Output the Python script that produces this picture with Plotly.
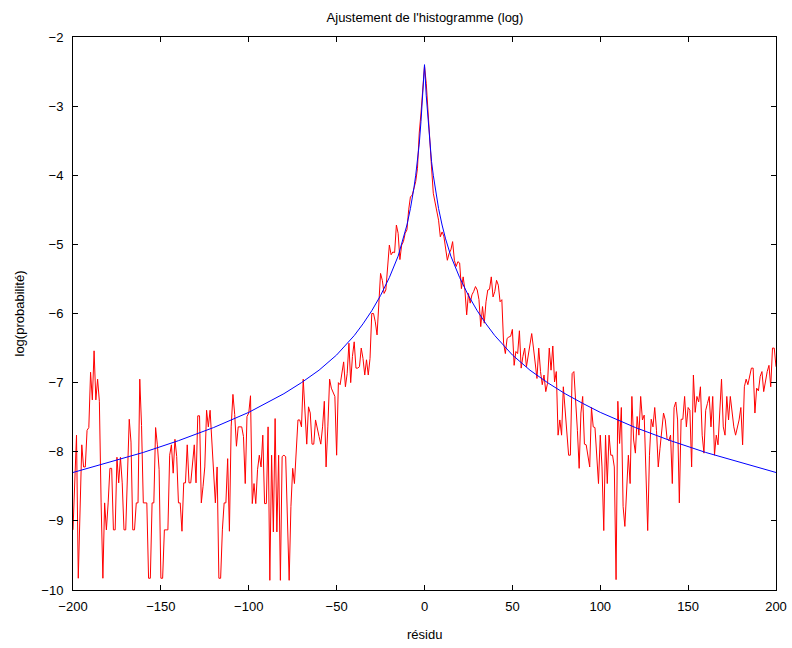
import plotly.graph_objects as go

# Red: empirical log-probability per residual value, x = -200..200 step 1
red_left = [  # x = -200 .. -101
    -9.13, -8.45, -7.76, -9.83, -8.74, -7.90, -8.22, -8.22, -7.69, -7.65,
    -6.85, -7.25, -6.54, -7.25, -6.95, -7.27, -8.74, -9.83, -8.74, -9.13,
    -8.74, -8.24, -8.24, -9.13, -9.13, -8.08, -8.45, -8.08, -8.45, -9.13,
    -9.13, -8.45, -7.53, -7.86, -9.13, -9.13, -8.74, -8.74, -6.95, -7.62,
    -8.74, -8.74, -8.74, -9.83, -9.83, -8.74, -8.74, -7.65, -7.90, -8.26,
    -9.83, -9.83, -9.13, -9.13, -9.13, -8.05, -7.90, -8.31, -7.82, -8.07,
    -8.74, -8.74, -9.15, -8.45, -8.45, -7.90, -8.45, -8.45, -8.22, -7.90,
    -8.45, -7.48, -7.48, -8.74, -8.50, -8.22, -7.40, -7.64, -7.40, -7.83,
    -8.22, -8.74, -8.22, -9.83, -9.83, -9.13, -8.74, -8.74, -8.10, -9.15,
    -7.64, -7.17, -7.46, -7.92, -7.64, -7.64, -7.64, -7.78, -8.46, -7.49,
]
red_mid_left = [  # x = -100 .. -1
    -7.44, -7.19, -8.75, -8.46, -8.75, -8.26, -8.05, -8.22, -7.76, -8.75,
    -8.75, -7.64, -9.86, -8.05, -9.16, -7.52, -9.16, -8.05, -9.86, -8.07,
    -8.05, -8.07, -9.16, -9.86, -8.79, -8.24, -8.46, -8.02, -7.54, -7.54,
    -7.64, -6.95, -7.44, -7.89, -7.35, -7.44, -7.89, -7.89, -7.54, -7.64,
    -7.78, -7.89, -7.64, -7.27, -8.22, -7.64, -6.95, -7.08, -7.13, -7.20,
    -8.05, -7.00, -7.03, -6.89, -6.70, -7.06, -6.87, -6.43, -7.00, -6.62,
    -6.41, -6.79, -6.79, -6.77, -6.50, -6.65, -6.89, -6.67, -6.89, -6.65,
    -6.00, -6.00, -6.12, -6.31, -5.80, -5.42, -5.52, -5.71, -5.66, -5.37,
    -5.01, -5.15, -5.11, -5.12, -4.72, -4.84, -5.22, -5.01, -4.96, -4.84,
    -4.79, -4.50, -4.31, -4.29, -4.19, -4.09, -3.90, -3.39, -3.10, -2.72,
]
red_mid_right = [  # x = 0 .. 99
    -2.42, -2.67, -3.10, -3.59, -3.88, -4.26, -4.41, -4.55, -4.65, -4.89,
    -4.82, -4.88, -5.03, -5.23, -5.13, -5.08, -4.96, -5.23, -5.32, -5.25,
    -5.27, -5.64, -5.47, -5.66, -6.02, -5.71, -5.85, -5.73, -5.68, -5.61,
    -5.66, -5.80, -6.19, -5.90, -6.14, -5.83, -5.66, -5.65, -5.47, -5.76,
    -5.68, -5.52, -5.59, -5.83, -5.80, -6.43, -6.58, -6.36, -6.34, -6.33,
    -6.23, -6.75, -6.55, -6.58, -6.25, -6.79, -6.62, -6.50, -6.77, -6.62,
    -6.43, -6.29, -6.50, -6.72, -6.94, -6.50, -6.84, -7.03, -6.89, -7.13,
    -7.01, -6.50, -6.82, -6.47, -6.99, -6.84, -7.76, -7.54, -7.76, -7.06,
    -7.40, -7.69, -8.05, -8.05, -6.87, -6.84, -7.20, -7.69, -8.24, -7.44,
    -7.20, -7.89, -7.90, -8.05, -8.22, -7.36, -7.64, -7.65, -8.07, -8.46,
]
red_right = [  # x = 100 .. 200
    -7.76, -8.22, -9.14, -7.76, -8.46, -7.76, -8.05, -8.05, -8.22, -9.85,
    -7.27, -7.88, -7.36, -8.79, -9.08, -8.60, -8.05, -8.46, -7.20, -7.83,
    -8.02, -7.49, -7.76, -7.20, -7.54, -7.47, -8.34, -9.14, -8.05, -7.53,
    -7.64, -7.36, -7.69, -8.22, -7.95, -7.64, -7.44, -7.54, -7.81, -7.84,
    -7.76, -8.46, -7.36, -7.28, -7.54, -8.74, -7.53, -7.53, -7.20, -7.64,
    -7.36, -7.40, -8.22, -6.89, -7.43, -7.20, -7.28, -7.06, -7.76, -8.02,
    -7.40, -7.30, -7.20, -7.64, -7.20, -8.05, -7.76, -7.90, -7.44, -6.95,
    -7.64, -7.76, -7.20, -7.54, -7.20, -7.47, -7.64, -7.76, -7.64, -7.54,
    -7.36, -7.90, -7.06, -6.95, -7.03, -6.89, -6.79, -6.79, -7.44, -7.08,
    -7.12, -6.91, -6.84, -7.13, -6.96, -6.84, -6.75, -7.06, -6.50, -6.50,
    -6.77,
]
red_y = red_left + red_mid_left + red_mid_right + red_right
red_x = list(range(-200, 201))
assert len(red_y) == len(red_x), len(red_y)

# Blue: fitted curve, read at these residual values
blue_x = [-200, -180, -160, -140, -120, -100, -90, -80, -70, -60, -50, -40, -35, -30,
          -25, -20, -15, -12, -10, -8, -7, -6, -5, -4, -3, -2, -1, 0,
          1, 2, 3, 4, 5, 6, 7, 8, 10, 12, 15, 20, 25, 30, 35, 40, 50, 60, 70, 80,
          90, 100, 120, 140, 160, 180, 200]
blue_y = [-8.30, -8.16, -8.01, -7.84, -7.65, -7.43, -7.30, -7.16, -7.00, -6.82, -6.60,
          -6.32, -6.15, -5.96, -5.74, -5.48, -5.17, -4.92, -4.72, -4.48, -4.34, -4.18,
          -4.00, -3.80, -3.55, -3.22, -2.85, -2.40,
          -2.85, -3.22, -3.55, -3.80, -4.00, -4.18, -4.34, -4.48, -4.72, -4.92, -5.17,
          -5.48, -5.74, -5.96, -6.15, -6.32, -6.60, -6.82, -7.00, -7.16, -7.30, -7.43,
          -7.65, -7.84, -8.01, -8.16, -8.30]

x_ticks = [-200, -150, -100, -50, 0, 50, 100, 150, 200]
y_ticks = [-10, -9, -8, -7, -6, -5, -4, -3, -2]

FONT = "Liberation Sans, Arial, Helvetica, sans-serif"

fig = go.Figure()
fig.add_trace(go.Scatter(x=red_x, y=red_y, mode="lines",
                         line=dict(color="#ff0000", width=1), hoverinfo="skip"))
fig.add_trace(go.Scatter(x=blue_x, y=blue_y, mode="lines",
                         line=dict(color="#0000ff", width=1), hoverinfo="skip"))

axis_common = dict(showgrid=False, zeroline=False, showline=True, linecolor="black",
                   linewidth=1, mirror="ticks", ticks="inside", ticklen=5,
                   tickcolor="black", tickwidth=1, automargin=False,
                   tickfont=dict(family=FONT, size=13, color="black"))

fig.update_layout(
    width=792, height=648,
    margin=dict(l=73, r=16, t=37, b=58),
    paper_bgcolor="white", plot_bgcolor="white",
    showlegend=False,
    font=dict(family=FONT, size=13, color="black"),
    title=dict(text="Ajustement de l'histogramme (log)", x=(425) / 792, xanchor="center",
               y=1 - 17 / 648, yanchor="middle",
               font=dict(family=FONT, size=13, color="black")),
    xaxis=dict(range=[-200, 200], tickvals=x_ticks, ticklabelstandoff=4, **axis_common),
    yaxis=dict(range=[-10, -2], tickvals=y_ticks, ticklabelstandoff=6, **axis_common),
    annotations=[
        dict(text="résidu", xref="paper", yref="paper", x=0.5, y=(590 - 634) / 553,
             xanchor="center", yanchor="middle", showarrow=False,
             font=dict(family=FONT, size=13, color="black")),
        dict(text="log(probabilité)", xref="paper", yref="paper", x=(19 - 73) / 703, y=0.5,
             xanchor="center", yanchor="middle", textangle=-90, showarrow=False,
             font=dict(family=FONT, size=13, color="black")),
    ],
)

fig.write_html("out.html")
